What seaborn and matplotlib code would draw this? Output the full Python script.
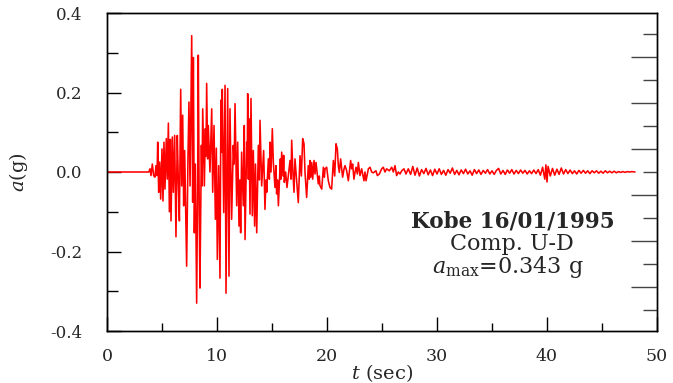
import matplotlib
matplotlib.use("Agg")
import matplotlib.pyplot as plt
from matplotlib.ticker import FixedLocator, MultipleLocator, NullFormatter
import pandas as pd
import seaborn as sns

# Vertical component accelerogram, Kobe 16/01/1995 (time in s, acceleration in g)
t_sec = [
    0.00, 3.80, 3.91, 4.00, 4.12, 4.24, 4.36, 4.45, 4.55, 4.61, 4.70, 4.79, 4.88,
    5.00, 5.09, 5.18, 5.27, 5.39, 5.48, 5.58, 5.67, 5.76, 5.82, 5.94, 6.03, 6.15,
    6.27, 6.39, 6.48, 6.58, 6.70, 6.79, 6.88, 6.97, 7.06, 7.24, 7.36, 7.45, 7.55,
    7.70, 7.79, 7.85, 7.94, 8.03, 8.15, 8.24, 8.30, 8.39, 8.45, 8.58, 8.64, 8.70,
    8.85, 8.94, 9.00, 9.06, 9.15, 9.21, 9.36, 9.52, 9.61, 9.73, 9.85, 9.94, 10.03,
    10.15, 10.27, 10.36, 10.42, 10.48, 10.61, 10.73, 10.82, 10.97, 11.09, 11.18,
    11.33, 11.48, 11.56, 11.64, 11.79, 11.88, 12.00, 12.08, 12.15, 12.24, 12.39,
    12.48, 12.55, 12.70, 12.75, 12.79, 12.85, 12.91, 13.00, 13.09, 13.21, 13.30,
    13.42, 13.50, 13.61, 13.76, 13.85, 13.91, 14.06, 14.24, 14.36, 14.45, 14.52,
    14.67, 14.76, 14.82, 14.91, 15.03, 15.12, 15.27, 15.36, 15.42, 15.50, 15.58,
    15.76, 15.82, 15.88, 16.00, 16.06, 16.12, 16.24, 16.36, 16.48, 16.64, 16.73,
    16.79, 16.90, 17.00, 17.09, 17.24, 17.39, 17.55, 17.67, 17.79, 17.91, 18.00,
    18.15, 18.30, 18.39, 18.45, 18.53, 18.61, 18.70, 18.82, 18.91, 19.00, 19.21,
    19.30, 19.36, 19.52, 19.67, 19.76, 19.82, 19.97, 20.12, 20.27, 20.42, 20.58,
    20.70, 20.82, 20.94, 21.03, 21.12, 21.24, 21.42, 21.55, 21.64, 21.79, 21.94,
    22.03, 22.15, 22.24, 22.33, 22.45, 22.55, 22.64, 22.76, 22.85, 23.00, 23.15,
    23.24, 23.36, 23.45, 23.55, 23.76, 23.91, 24.06, 24.21, 24.45, 24.58, 24.76,
    24.97, 25.12, 25.27, 25.42, 25.67, 25.88, 26.03, 26.18, 26.33, 26.48, 26.64,
    26.79, 27.00, 27.18, 27.39, 27.60, 27.80, 28.00, 28.20, 28.40, 28.60, 28.80,
    29.00, 29.20, 29.40, 29.60, 29.80, 30.00, 30.20, 30.40, 30.60, 30.80, 31.00,
    31.20, 31.40, 31.60, 31.80, 32.00, 32.20, 32.40, 32.60, 32.80, 33.00, 33.20,
    33.40, 33.60, 33.80, 34.00, 34.20, 34.40, 34.60, 34.80, 35.00, 35.20, 35.40,
    35.60, 35.80, 36.00, 36.20, 36.40, 36.60, 36.80, 37.00, 37.20, 37.40, 37.60,
    37.80, 38.00, 38.20, 38.40, 38.60, 38.80, 39.00, 39.20, 39.40, 39.60, 39.80,
    39.90, 40.00, 40.10, 40.30, 40.50, 40.70, 40.90, 41.10, 41.30, 41.50, 41.70,
    41.90, 42.10, 42.30, 42.50, 42.70, 42.90, 43.10, 43.30, 43.50, 43.70, 43.90,
    44.10, 44.30, 44.50, 44.70, 44.90, 45.10, 45.30, 45.50, 45.70, 45.90, 46.10,
    46.30, 46.50, 46.70, 46.90, 47.10, 47.30, 47.50, 47.70, 48.00,
]
acc_g = [
    0.000, 0.000, 0.008, -0.009, 0.020, -0.009, -0.013, 0.016, -0.009, 0.075, -0.051, 0.025, -0.068,
    0.058, -0.073, 0.075, -0.043, 0.084, -0.018, 0.123, -0.100, 0.082, -0.123, 0.088, -0.051, 0.092,
    -0.163, 0.092, -0.018, -0.123, 0.208, -0.035, 0.143, -0.085, 0.054, -0.237, 0.033, 0.176, -0.035,
    0.343, -0.076, 0.288, -0.153, 0.020, -0.330, -0.035, 0.294, -0.119, -0.292, 0.067, -0.035, 0.159,
    -0.035, 0.109, 0.040, 0.223, 0.033, 0.117, 0.000, 0.159, -0.051, 0.117, -0.119, 0.060, -0.220,
    0.016, -0.267, 0.181, 0.050, 0.208, -0.102, 0.218, -0.305, 0.210, -0.262, 0.159,
    -0.119, 0.067, 0.020, 0.172, -0.085, 0.075, -0.136, -0.020, -0.153, 0.050, -0.085,
    0.117, -0.170, 0.075, 0.020, 0.197, -0.018, 0.134, -0.106, 0.185, -0.110, 0.054,
    -0.136, 0.020, -0.153, 0.067, -0.020, 0.130, -0.035, 0.054, -0.094, -0.020, -0.051,
    0.033, -0.018, 0.075, 0.000, 0.109, 0.025, -0.039, 0.016, -0.055, -0.020, -0.085,
    0.033, -0.018, 0.050, -0.010, 0.042, -0.026, 0.000, -0.039, -0.010, 0.029, -0.018,
    0.080, 0.000, -0.051, 0.033, -0.022, -0.077, 0.041, -0.010, 0.084, 0.071, 0.000,
    -0.064, 0.016, -0.018, 0.029, -0.013, 0.024, -0.018, 0.029, -0.005, 0.024, -0.030,
    -0.010, -0.034, -0.043, 0.012, -0.013, 0.008, 0.012, -0.022, -0.039, -0.043, 0.029,
    -0.010, 0.071, 0.058, 0.016, -0.001, 0.033, -0.013, 0.008, 0.016, 0.003, -0.022,
    0.000, 0.029, 0.008, 0.020, -0.018, 0.000, 0.012, -0.005, 0.024, -0.009, 0.008,
    -0.005, -0.022, 0.000, -0.022, 0.008, 0.012, 0.000, -0.002, 0.003, -0.009, -0.005,
    0.008, 0.012, 0.000, 0.008, 0.003, 0.012, 0.000, 0.016, -0.009, 0.000, -0.005,
    0.003, 0.008, -0.005, 0.008, -0.006, 0.014, -0.008, 0.010, -0.010, 0.006, -0.004,
    0.009, -0.007, 0.005, -0.009, 0.007, -0.005, 0.008, -0.006, 0.004, -0.008, 0.006,
    -0.003, 0.010, -0.006, 0.004, -0.007, 0.005, -0.004, 0.007, -0.005, 0.003, -0.008,
    0.006, -0.004, 0.005, -0.006, 0.004, -0.003, 0.006, -0.005, 0.003, -0.006, 0.004,
    0.009, -0.005, 0.004, -0.006, 0.005, -0.003, 0.006, -0.005, 0.004, -0.004, 0.005,
    -0.003, 0.004, -0.005, 0.003, -0.004, 0.005, -0.004, 0.006, -0.008, 0.012, -0.018,
    0.018, -0.025, 0.014, -0.010, 0.009, -0.008, 0.007, -0.006, 0.010, -0.005, 0.006,
    -0.004, 0.005, -0.004, 0.003, -0.005, 0.004, -0.003, 0.004, -0.003, 0.003, -0.004,
    0.003, -0.002, 0.003, -0.003, 0.002, -0.003, 0.003, -0.002, 0.002, -0.002, 0.002,
    -0.002, 0.001, -0.001, 0.001, -0.001, 0.001, 0.000, 0.001, 0.000,
]

x_ticks = [0, 10, 20, 30, 40, 50]
x_tick_labels = ["0", "10", "20", "30", "40", "50"]
y_ticks = [-0.4, -0.2, 0.0, 0.2, 0.4]
y_tick_labels = ["-0.4", "-0.2", "0.0", "0.2", "0.4"]
# right-hand scale marks (in g)
right_major = [-0.2893, -0.1736, -0.0579, 0.0579, 0.1736, 0.2893]
right_minor = [-0.3472, -0.2314, -0.1157, 0.0, 0.1157, 0.2314, 0.3472]

record_name = "Kobe 16/01/1995"
component = "Comp. U-D"
peak_acc = max(abs(v) for v in acc_g)

sns.set_style("ticks")
plt.rcParams["font.family"] = ["DejaVu Serif"]
plt.rcParams["mathtext.fontset"] = "dejavuserif"
plt.rcParams["axes.unicode_minus"] = False

W, H = 673, 383
fig = plt.figure(figsize=(W / 100, H / 100), dpi=100)
ax = fig.add_axes([107 / W, 1 - 331 / H, 550 / W, 318 / H])

df = pd.DataFrame({"t": t_sec, "a": acc_g})
sns.lineplot(data=df, x="t", y="a", ax=ax, color="#ff0000", linewidth=1.15,
             sort=False, estimator=None, legend=False)

ax.set_xlim(0, 50)
ax.set_ylim(-0.4, 0.4)

ax.xaxis.set_major_locator(FixedLocator(x_ticks))
ax.set_xticklabels(x_tick_labels)
ax.xaxis.set_minor_locator(MultipleLocator(5))
ax.yaxis.set_major_locator(FixedLocator(y_ticks))
ax.set_yticklabels(y_tick_labels)
ax.yaxis.set_minor_locator(MultipleLocator(0.1))

ax.tick_params(axis="both", which="both", direction="in", width=1.0,
               color="black", top=False, right=False)
ax.tick_params(axis="y", which="major", length=10, labelsize=12, pad=18)
ax.tick_params(axis="y", which="minor", length=8)
ax.tick_params(axis="x", which="major", length=10, labelsize=12.5, pad=12)
ax.tick_params(axis="x", which="minor", length=6)

# secondary scale marks along the right edge
rax = ax.twinx()
rax.set_ylim(ax.get_ylim())
rax.yaxis.set_major_locator(FixedLocator(right_major))
rax.yaxis.set_minor_locator(FixedLocator(right_minor))
rax.yaxis.set_major_formatter(NullFormatter())
rax.tick_params(axis="y", which="major", direction="in", length=19, width=1.0, color="#444444")
rax.tick_params(axis="y", which="minor", direction="in", length=10, width=1.0, color="#444444")

for a in (ax, rax):
    for side in a.spines.values():
        side.set_color("black")
        side.set_linewidth(1.0)

ax.set_xlabel(r"$t$ (sec)", fontsize=14, labelpad=-2)
ax.set_ylabel(r"$a$(g)", fontsize=14, labelpad=14)

ax.text(36.9, -0.124, record_name, ha="center", va="center",
        fontsize=15.5, fontweight="bold")
ax.text(36.8, -0.180, component, ha="center", va="center", fontsize=16)
ax.text(36.4, -0.240, r"$a_{\rm max}$=" + f"{peak_acc:.3f} g",
        ha="center", va="center", fontsize=16)

fig.savefig("out.png", dpi=100)
